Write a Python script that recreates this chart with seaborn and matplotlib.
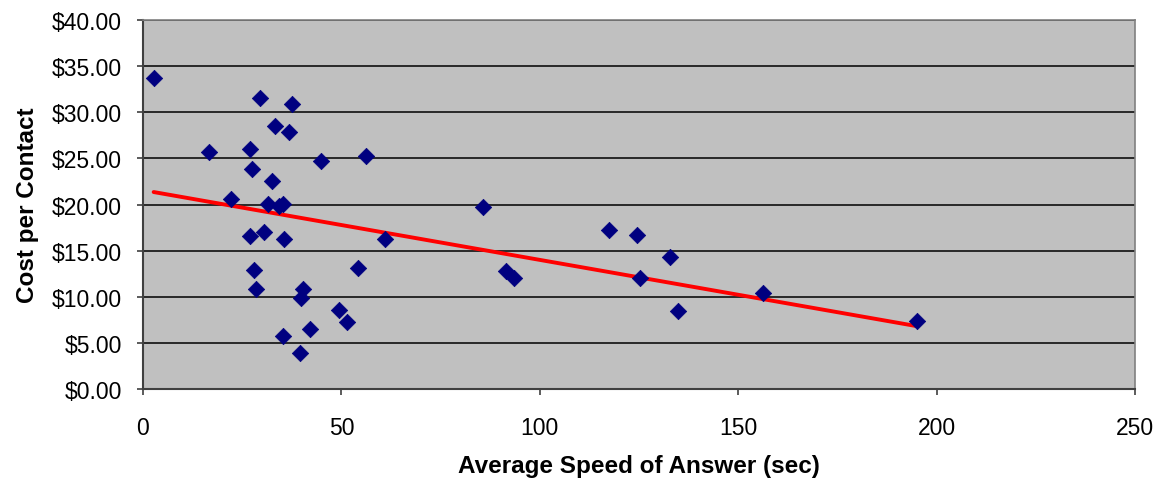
import matplotlib.pyplot as plt
import seaborn as sns
import pandas as pd
from matplotlib.ticker import FuncFormatter

# values
asa_sec = [2.7, 29.6, 37.5, 33.4, 36.7, 16.6, 27.1, 44.9, 56.1, 27.6,
           32.6, 22.1, 31.5, 34.4, 35.3, 27.1, 30.6, 35.5, 60.9, 28.0,
           28.5, 54.3, 40.4, 39.8, 49.4, 51.5, 42.0, 35.4, 39.5, 85.7,
           91.6, 93.5, 117.5, 124.4, 132.9, 125.3, 134.8, 156.3, 195.0]
cost_per_contact = [33.7, 31.5, 30.9, 28.5, 27.9, 25.7, 26.0, 24.7, 25.3, 23.8,
                    22.5, 20.65, 20.1, 19.8, 20.1, 16.55, 17.0, 16.3, 16.3, 12.9,
                    10.8, 13.1, 10.8, 9.9, 8.6, 7.3, 6.45, 5.7, 3.9, 19.75,
                    12.75, 12.0, 17.2, 16.7, 14.35, 12.0, 8.4, 10.4, 7.4]

df = pd.DataFrame({"asa": asa_sec, "cost": cost_per_contact})

sns.set_theme(style="white")
plt.rcParams["font.family"] = ["Liberation Sans", "DejaVu Sans"]

fig = plt.figure(figsize=(11.65, 4.89), dpi=100)
ax = fig.add_axes([0.1227, 0.2025, 0.8515, 0.7545])
ax.set_facecolor("#C0C0C0")

# trendline first so markers sit on top
sns.regplot(data=df, x="asa", y="cost", ax=ax, ci=None, truncate=True,
            scatter=False, line_kws={"color": "#FF0000", "lw": 2.8, "zorder": 2})
sns.scatterplot(data=df, x="asa", y="cost", ax=ax, marker="D", s=70,
                color="#000080", edgecolor="#000080", linewidth=0.5, zorder=3)

ax.set_xlim(0, 250)
ax.set_ylim(0, 40)
ax.set_xticks(range(0, 251, 50))
ax.set_yticks(range(0, 41, 5))
ax.yaxis.set_major_formatter(FuncFormatter(lambda v, _: f"${v:.2f}"))

ax.grid(axis="y", color="black", lw=1.1)
ax.grid(axis="x", visible=False)
ax.set_axisbelow(True)

for side in ["top", "right"]:
    ax.spines[side].set_color("#808080")
    ax.spines[side].set_linewidth(1.2)
for side in ["left", "bottom"]:
    ax.spines[side].set_color("#404040")
    ax.spines[side].set_linewidth(1.5)

ax.tick_params(axis="both", direction="out", length=4.5, width=1.2,
               color="#404040", labelsize=16.5, labelcolor="black",
               bottom=True, left=True)
ax.tick_params(axis="x", pad=15)
ax.tick_params(axis="y", pad=10.5)

ax.set_xlabel("Average Speed of Answer (sec)", fontsize=17.5,
              fontweight="bold", labelpad=11, color="black")
ax.set_ylabel("Cost per Contact", fontsize=17.5, fontweight="bold",
              labelpad=9, color="black")

fig.savefig("out.png", dpi=100, facecolor="white")
